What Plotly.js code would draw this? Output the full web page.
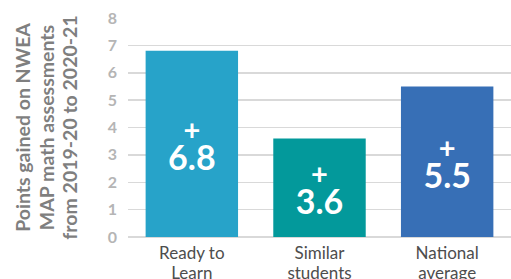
<!DOCTYPE html>
<html>
<head>
<meta charset="utf-8">
<script src="https://cdn.plot.ly/plotly-3.0.1.min.js"></script>
<style>html,body{margin:0;padding:0;background:#fff;}#chart{width:511px;height:279px;}</style>
</head>
<body>
<div id="chart"></div>
<script>
var categories = ["Ready to<br>Learn", "Similar<br>students", "National<br>average"];
var values = [6.8, 3.6, 5.5];
var barColors = ["#27a3c9", "#03999b", "#376fb6"];
var yTicks = [0, 1, 2, 3, 4, 5, 6, 7, 8];
var yTitleLines = ["Points gained on NWEA", "MAP math assessments", "from 2019-20 to 2020-21"];

var yTitle = yTitleLines.map(function (s) {
  return '<span style="font-size:19.5px">' + s + '</span>';
}).join("<br>");

var xTickText = categories.map(function (c) {
  return c.split("<br>").map(function (s) {
    return '<span style="font-size:17px">' + s + '</span>';
  }).join("<br>");
});

var labels = values.map(function (v) {
  return '<span style="font-size:29px">+</span><br><span style="font-size:34px">' + v.toFixed(1) + '</span>';
});

var trace = {
  type: "bar",
  x: categories,
  y: values,
  marker: { color: barColors, line: { width: 0 } },
  text: labels,
  texttemplate: "%{text}",
  textposition: "inside",
  insidetextanchor: "middle",
  textangle: 0,
  insidetextfont: { family: "Lato, sans-serif", size: 23, color: "#ffffff", weight: "bold" },
  hoverinfo: "none",
  cliponaxis: false
};

var layout = {
  width: 511,
  height: 279,
  margin: { l: 127.5, r: 0, t: 17.7, b: 42.3, pad: 0 },
  paper_bgcolor: "#ffffff",
  plot_bgcolor: "#ffffff",
  bargap: 0.276,
  showlegend: false,
  font: { family: "Lato, sans-serif" },
  xaxis: {
    type: "category",
    range: [-0.5, 2.5],
    tickvals: categories,
    ticktext: xTickText,
    showgrid: false,
    showline: false,
    zeroline: false,
    ticks: "",
    ticklabelstandoff: 5,
    tickfont: { family: "Lato, sans-serif", size: 15.6, color: "#4d4d4d" },
    fixedrange: true
  },
  yaxis: {
    range: [0, 8],
    tickvals: yTicks,
    ticktext: yTicks.map(String),
    showgrid: true,
    gridcolor: "#d9d9d9",
    gridwidth: 1.5,
    zeroline: true,
    zerolinecolor: "#d9d9d9",
    zerolinewidth: 1.5,
    showline: false,
    ticks: "",
    ticklabelstandoff: 10,
    tickfont: { family: "Lato, sans-serif", size: 16, color: "#b5b5b5", weight: "bold" },
    title: {
      text: yTitle,
      font: { family: "Lato, sans-serif", size: 18, color: "#7f7f7f", weight: "bold" },
      standoff: 25
    },
    fixedrange: true
  }
};

Plotly.newPlot("chart", [trace], layout, { displayModeBar: false, staticPlot: true });
</script>
</body>
</html>
